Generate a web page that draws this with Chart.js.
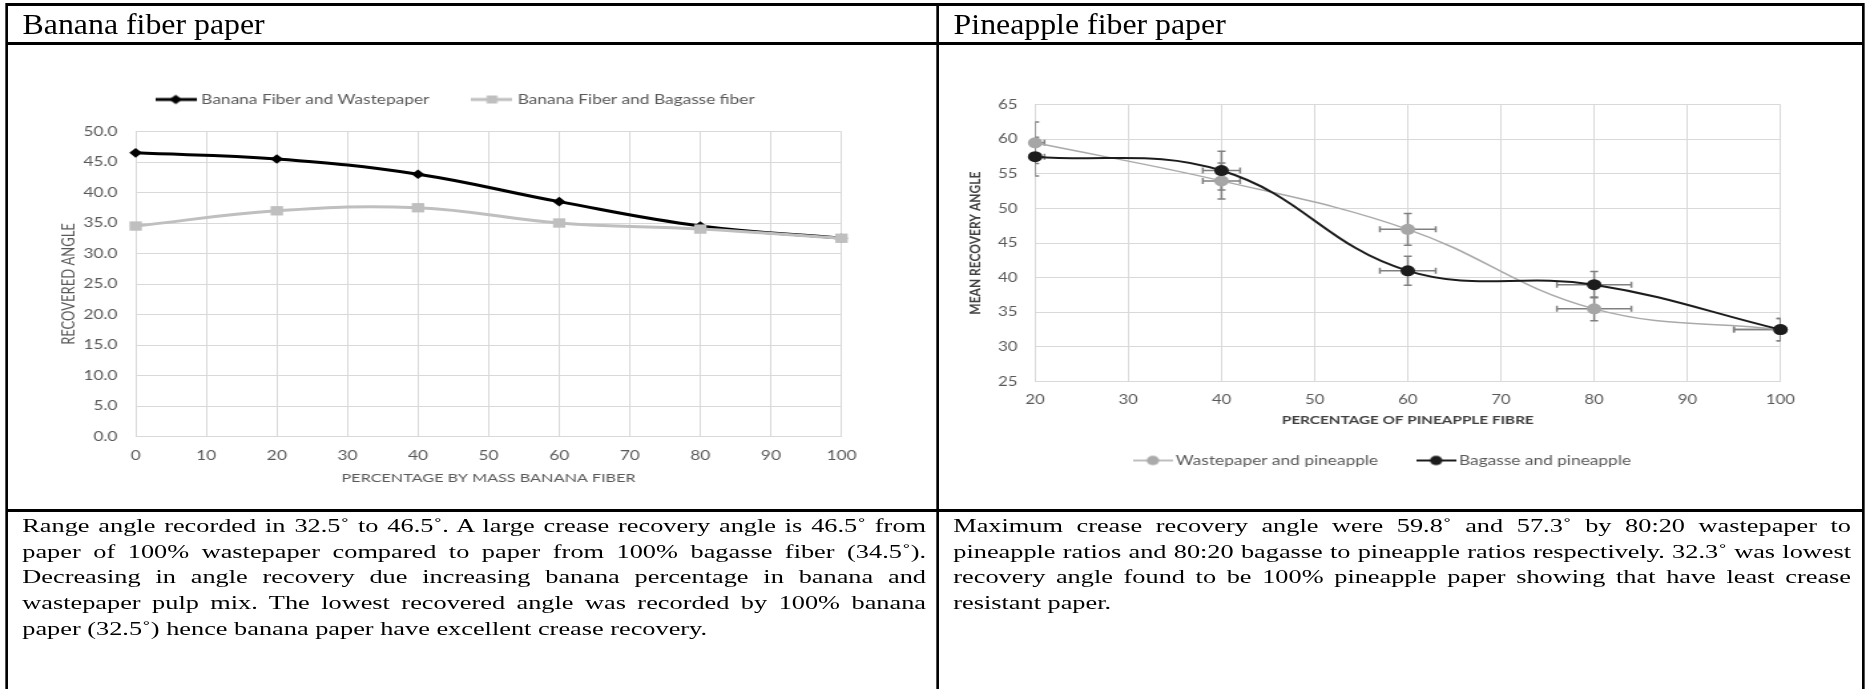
<!DOCTYPE html>
<html>
<head>
<meta charset="utf-8">
<script src="https://cdn.jsdelivr.net/npm/chart.js@4/dist/chart.umd.min.js"></script>
<style>
  html, body { margin: 0; padding: 0; background: #fff; overflow: hidden; }
  #page { position: relative; width: 1403px; height: 689px; transform: scaleX(1.33); transform-origin: 0 0; }
  table { position: absolute; left: 4.26px; top: 2.5px; width: 1397.5px; border-collapse: collapse; table-layout: fixed;
          font-family: "Liberation Serif", "Times New Roman", serif; color: #000; }
  td { border-left: 2px solid #000; border-right: 2px solid #000; border-top: 3px solid #000; border-bottom: 3px solid #000;
       padding: 0; vertical-align: top; }
  tr.head { height: 39px; }
  tr.head td { padding-left: 10.5px; font-size: 29px; line-height: 36px; }
  tr.head span { display: inline-block; transform: scaleX(0.825); transform-origin: 0 50%; white-space: nowrap; }
  tr.plots { height: 467px; }
  canvas { display: block; }
  tr.notes { height: 200px; }
  tr.notes td { padding: 1.4px 8px 0 10.5px; font-size: 19.8px; line-height: 25.8px; }
  tr.notes div { text-align: justify; text-align-last: justify; }
  tr.notes div.last { text-align-last: left; }
</style>
</head>
<body>
<div id="page">
  <table>
    <col style="width: 700px"><col>
    <tr class="head">
      <td><span>Banana fiber paper</span></td>
      <td><span>Pineapple fiber paper</span></td>
    </tr>
    <tr class="plots">
      <td><canvas id="banana" width="698" height="464"></canvas></td>
      <td><canvas id="pineapple" width="693" height="464"></canvas></td>
    </tr>
    <tr class="notes">
      <td>
        <div>Range angle recorded in 32.5˚ to 46.5˚. A large crease recovery angle is 46.5˚ from</div>
        <div>paper of 100% wastepaper compared to paper from 100% bagasse fiber (34.5˚).</div>
        <div>Decreasing in angle recovery due increasing banana percentage in banana and</div>
        <div>wastepaper pulp mix. The lowest recovered angle was recorded by 100% banana</div>
        <div class="last">paper (32.5˚) hence banana paper have excellent crease recovery.</div>
      </td>
      <td>
        <div>Maximum crease recovery angle were 59.8˚ and 57.3˚ by 80:20 wastepaper to</div>
        <div>pineapple ratios and 80:20 bagasse to pineapple ratios respectively. 32.3˚ was lowest</div>
        <div>recovery angle found to be 100% pineapple paper showing that have least crease</div>
        <div class="last">resistant paper.</div>
      </td>
    </tr>
  </table>
</div>
<script>
// Banana fiber paper
const bananaPct = [0, 20, 40, 60, 80, 100];
const bananaWastepaper = [46.5, 45.5, 43.0, 38.5, 34.5, 32.5];
const bananaBagasse = [34.5, 37.0, 37.5, 35.0, 34.0, 32.5];
const bananaLabels = ['Banana Fiber and Wastepaper', 'Banana Fiber and Bagasse fiber'];

// Pineapple fiber paper (with error bars)
const pineapplePct = [20, 40, 60, 80, 100];
const wastepaperPineapple = [59.5, 54.0, 47.0, 35.5, 32.5];
const wastepaperYErr = [3.0, 2.6, 2.3, 1.7, 1.6];
const wastepaperXErr = [1, 2, 3, 4, 5];
const bagassePineapple = [57.5, 55.5, 41.0, 39.0, 32.5];
const bagasseYErr = [2.8, 2.8, 2.1, 1.9, 1.6];
const bagasseXErr = [1, 2, 3, 4, 5];
const pineappleLabels = ['Wastepaper and pineapple', 'Bagasse and pineapple'];

Chart.defaults.font.family = 'Lato';
const textGrey = '#595959';
const gridGrey = '#d9d9d9';

function points(xs, ys) {
  return xs.map((x, i) => ({ x: x, y: ys[i] }));
}

// excel style legend entry: line with the marker in the middle
function legendIcon(color, lineWidth, pointStyle, radius, width) {
  const c = document.createElement('canvas');
  c.width = width;
  c.height = 14;
  const g = c.getContext('2d');
  g.strokeStyle = color;
  g.lineWidth = lineWidth;
  g.beginPath();
  g.moveTo(0, 7);
  g.lineTo(width, 7);
  g.stroke();
  g.fillStyle = color;
  Chart.helpers.drawPoint(g, { pointStyle: pointStyle, radius: radius, borderWidth: 0, rotation: 0 }, width / 2, 7);
  return c;
}

function iconLabels(icons) {
  return function (chart) {
    return chart.data.datasets.map((ds, i) => ({
      text: ds.label,
      pointStyle: icons[i],
      fillStyle: 'transparent',
      strokeStyle: 'transparent',
      lineWidth: 0,
      fontColor: textGrey,
      hidden: false,
      datasetIndex: i
    }));
  };
}

// extra room between the legend and the plot
const legendGap = {
  id: 'legendGap',
  beforeInit(chart) {
    const fit = chart.legend.fit;
    chart.legend.fit = function () {
      fit.call(this);
      this.height += 15.5;
    };
  }
};

const errorBars = {
  id: 'errorBars',
  beforeDatasetsDraw(chart) {
    const { ctx, chartArea, scales: { x, y } } = chart;
    const cap = 3;
    ctx.save();
    ctx.beginPath();
    ctx.rect(chartArea.left, chartArea.top, chartArea.right - chartArea.left, chartArea.bottom - chartArea.top);
    ctx.clip();
    ctx.strokeStyle = '#808080';
    ctx.lineWidth = 1.5;
    chart.data.datasets.forEach(ds => {
      ds.data.forEach((p, i) => {
        const px = x.getPixelForValue(p.x);
        const py = y.getPixelForValue(p.y);
        const top = y.getPixelForValue(p.y + ds.yErr[i]);
        const bottom = y.getPixelForValue(p.y - ds.yErr[i]);
        const left = x.getPixelForValue(p.x - ds.xErr[i]);
        const right = x.getPixelForValue(p.x + ds.xErr[i]);
        ctx.beginPath();
        ctx.moveTo(px, top); ctx.lineTo(px, bottom);
        ctx.moveTo(px - cap, top); ctx.lineTo(px + cap, top);
        ctx.moveTo(px - cap, bottom); ctx.lineTo(px + cap, bottom);
        ctx.moveTo(left, py); ctx.lineTo(right, py);
        ctx.moveTo(left, py - cap); ctx.lineTo(left, py + cap);
        ctx.moveTo(right, py - cap); ctx.lineTo(right, py + cap);
        ctx.stroke();
      });
    });
    ctx.restore();
  }
};

const bananaChart = new Chart(document.getElementById('banana'), {
  type: 'line',
  data: {
    datasets: [
      {
        label: bananaLabels[0],
        data: points(bananaPct, bananaWastepaper),
        borderColor: '#000',
        backgroundColor: '#000',
        borderWidth: 3,
        pointStyle: 'rectRot',
        pointRadius: 4.8,
        pointBorderWidth: 0,
        tension: 0.4,
        clip: false,
        order: 1
      },
      {
        label: bananaLabels[1],
        data: points(bananaPct, bananaBagasse),
        borderColor: '#bfbfbf',
        backgroundColor: '#bfbfbf',
        borderWidth: 3,
        pointStyle: 'rect',
        pointRadius: 6.6,
        pointBorderWidth: 0,
        tension: 0.4,
        clip: false,
        order: 0
      }
    ]
  },
  options: {
    responsive: false,
    animation: false,
    devicePixelRatio: 1,
    layout: { padding: { left: 48, right: 71.3, top: 13.7, bottom: 19.5 } },
    plugins: {
      tooltip: { enabled: false },
      legend: {
        position: 'top',
        labels: {
          usePointStyle: true,
          pointStyleWidth: 25.6,
          padding: 34.3,
          color: textGrey,
          font: { size: 13 },
          generateLabels: iconLabels([
            legendIcon('#000', 3, 'rectRot', 4.8, 31),
            legendIcon('#bfbfbf', 3, 'rect', 5.7, 31)
          ])
        }
      }
    },
    scales: {
      x: {
        type: 'linear',
        min: 0,
        max: 100,
        ticks: { stepSize: 10, color: textGrey, font: { size: 13 }, padding: 11.2, maxRotation: 0 },
        grid: { color: gridGrey, drawTicks: false },
        border: { color: gridGrey },
        title: {
          display: true,
          text: 'PERCENTAGE BY MASS BANANA FIBER',
          color: textGrey,
          font: { size: 12.2 },
          padding: { top: 7.2, bottom: 4 }
        },
        afterFit(scale) { scale.height = 53; }
      },
      y: {
        min: 0,
        max: 50,
        ticks: { stepSize: 5, color: textGrey, font: { size: 13 }, padding: 13.6, callback: v => v.toFixed(1) },
        grid: { color: gridGrey, drawTicks: false },
        border: { color: gridGrey },
        title: {
          display: true,
          text: 'RECOVERED ANGLE',
          color: textGrey,
          font: { size: 13 },
          padding: { top: -10.2, bottom: 0 }
        },
        afterFit(scale) { scale.width = 48; }
      }
    }
  },
  plugins: [legendGap]
});

const pineappleChart = new Chart(document.getElementById('pineapple'), {
  type: 'line',
  data: {
    datasets: [
      {
        label: pineappleLabels[0],
        data: points(pineapplePct, wastepaperPineapple),
        yErr: wastepaperYErr,
        xErr: wastepaperXErr,
        borderColor: '#aaaaaa',
        backgroundColor: '#a6a6a6',
        borderWidth: 1.5,
        pointStyle: 'circle',
        pointRadius: 5.5,
        pointBorderWidth: 0,
        tension: 0.4,
        clip: false,
        order: 1
      },
      {
        label: pineappleLabels[1],
        data: points(pineapplePct, bagassePineapple),
        yErr: bagasseYErr,
        xErr: bagasseXErr,
        borderColor: '#1c1c1c',
        backgroundColor: '#1c1c1c',
        borderWidth: 2,
        pointStyle: 'circle',
        pointRadius: 5.5,
        pointBorderWidth: 0,
        tension: 0.4,
        clip: false,
        order: 0
      }
    ]
  },
  options: {
    responsive: false,
    animation: false,
    devicePixelRatio: 1,
    layout: { padding: { left: 37.6, right: 60.3, top: 59.8, bottom: 32 } },
    plugins: {
      tooltip: { enabled: false },
      legend: {
        position: 'bottom',
        labels: {
          usePointStyle: true,
          pointStyleWidth: 21.6,
          padding: 32.8,
          color: textGrey,
          font: { size: 13 },
          generateLabels: iconLabels([
            legendIcon('#aaaaaa', 1.5, 'circle', 4.7, 30),
            legendIcon('#1c1c1c', 2, 'circle', 4.7, 30)
          ])
        }
      }
    },
    scales: {
      x: {
        type: 'linear',
        min: 20,
        max: 100,
        ticks: { stepSize: 10, color: textGrey, font: { size: 12.5 }, padding: 10.5, maxRotation: 0 },
        grid: { color: gridGrey, drawTicks: false },
        border: { color: gridGrey },
        title: {
          display: true,
          text: 'PERCENTAGE OF PINEAPPLE FIBRE',
          color: '#404040',
          font: { size: 11.5, weight: 'bold' },
          padding: { top: 6.6, bottom: -6.2 }
        },
        afterFit(scale) { scale.height = 39.7; }
      },
      y: {
        min: 25,
        max: 65,
        ticks: { stepSize: 5, color: textGrey, font: { size: 12.5 }, padding: 13.2 },
        grid: { color: gridGrey, drawTicks: false },
        border: { color: gridGrey },
        title: {
          display: true,
          text: 'MEAN RECOVERY ANGLE',
          color: '#404040',
          font: { size: 12, weight: 'bold' },
          padding: { top: -18, bottom: 0 }
        },
        afterFit(scale) { scale.width = 34.7; }
      }
    }
  },
  plugins: [errorBars]
});
</script>
</body>
</html>
